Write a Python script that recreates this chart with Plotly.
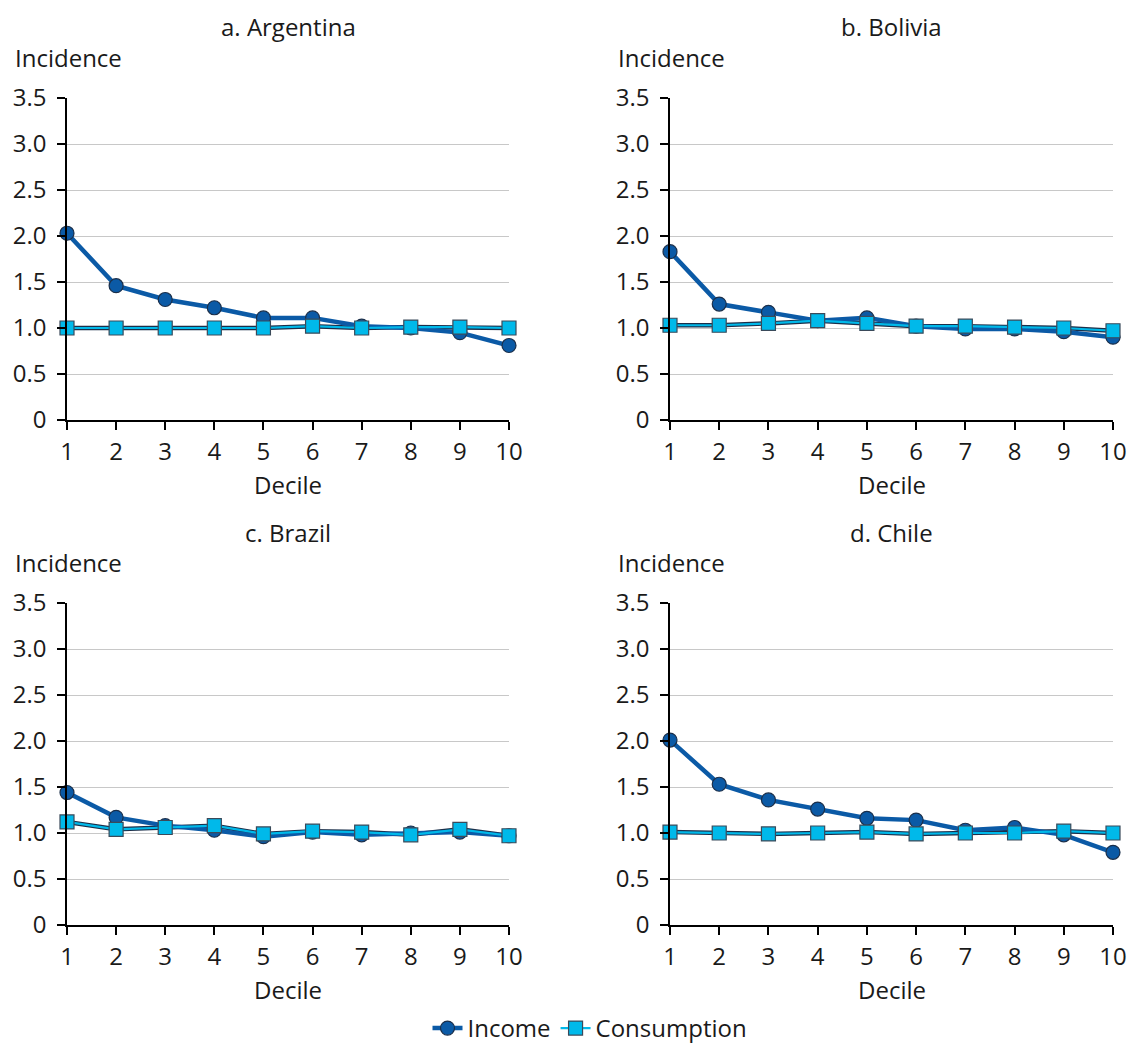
import plotly.graph_objects as go

deciles = [1, 2, 3, 4, 5, 6, 7, 8, 9, 10]

panel_titles = ["a. Argentina", "b. Bolivia", "c. Brazil", "d. Chile"]

argentina_income = [2.03, 1.46, 1.31, 1.22, 1.11, 1.11, 1.02, 1.00, 0.95, 0.81]
argentina_consumption = [1.00, 1.00, 1.00, 1.00, 1.00, 1.02, 1.00, 1.01, 1.01, 1.00]

bolivia_income = [1.83, 1.26, 1.17, 1.08, 1.11, 1.02, 0.99, 0.99, 0.96, 0.90]
bolivia_consumption = [1.03, 1.03, 1.05, 1.08, 1.05, 1.02, 1.02, 1.01, 1.00, 0.97]

brazil_income = [1.44, 1.17, 1.08, 1.03, 0.96, 1.01, 0.98, 1.00, 1.01, 0.97]
brazil_consumption = [1.12, 1.04, 1.06, 1.08, 0.99, 1.02, 1.01, 0.98, 1.04, 0.97]

chile_income = [2.01, 1.53, 1.36, 1.26, 1.16, 1.14, 1.03, 1.06, 0.98, 0.79]
chile_consumption = [1.01, 1.00, 0.99, 1.00, 1.01, 0.99, 1.00, 1.00, 1.02, 1.00]

y_ticks = [0, 0.5, 1.0, 1.5, 2.0, 2.5, 3.0, 3.5]
y_tick_labels = ["0", "0.5", "1.0", "1.5", "2.0", "2.5", "3.0", "3.5"]

income_series = [argentina_income, bolivia_income, brazil_income, chile_income]
consumption_series = [argentina_consumption, bolivia_consumption, brazil_consumption, chile_consumption]

FONT = "Open Sans"
FS = 24
TXT = "#1a1a1a"
W, H = 1130, 1051

# plot-area pixel boxes (left, right, top, bottom)
boxes = [
    (67, 509, 98, 420),
    (670, 1113, 98, 420),
    (67, 509, 603, 925),
    (670, 1113, 603, 925),
]

INCOME_COLOR = "#0b5aa6"
CONS_COLOR = "#00b9ea"
EDGE = "#1b2f4a"

fig = go.Figure()
annotations = []
layout_axes = {}

for i, (l, r, t, b) in enumerate(boxes):
    n = "" if i == 0 else str(i + 1)
    xa, ya = "x" + n, "y" + n
    xdom = [l / W, r / W]
    ydom = [1 - b / H, 1 - t / H]

    layout_axes["xaxis" + n] = dict(
        domain=xdom, anchor=ya, range=[1, 10], tickvals=deciles,
        ticks="outside", ticklen=8, tickcolor="#000", tickwidth=1.5,
        showline=True, linecolor="#000", linewidth=1.5,
        showgrid=False, zeroline=False, fixedrange=True, automargin=False,
        ticklabelstandoff=1,
        tickfont=dict(family=FONT, size=FS, color=TXT),
    )
    layout_axes["yaxis" + n] = dict(
        domain=ydom, anchor=xa, range=[0, 3.5], tickvals=y_ticks, ticktext=y_tick_labels,
        ticks="outside", ticklen=8, tickcolor="#000", tickwidth=1.5,
        showline=True, linecolor="#000", linewidth=1.5,
        showgrid=True, gridcolor="#c8c8c8", gridwidth=1.2, zeroline=False, fixedrange=True,
        automargin=False, ticklabelstandoff=6,
        tickfont=dict(family=FONT, size=FS, color=TXT),
    )

    # consumption: dark casing under a cyan line
    fig.add_trace(go.Scatter(
        x=deciles, y=consumption_series[i], xaxis=xa, yaxis=ya,
        mode="lines", line=dict(color=EDGE, width=4.5),
        showlegend=False, hoverinfo="skip", cliponaxis=False,
    ))
    fig.add_trace(go.Scatter(
        x=deciles, y=income_series[i], xaxis=xa, yaxis=ya, name="Income",
        mode="lines+markers", line=dict(color=INCOME_COLOR, width=4.5),
        marker=dict(symbol="circle", size=14, color=INCOME_COLOR, line=dict(color=EDGE, width=1.2)),
        showlegend=(i == 0), legendgroup="income", cliponaxis=False,
    ))
    fig.add_trace(go.Scatter(
        x=deciles, y=consumption_series[i], xaxis=xa, yaxis=ya, name="Consumption",
        mode="lines+markers", line=dict(color=CONS_COLOR, width=2.2),
        marker=dict(symbol="square", size=14, color=CONS_COLOR, line=dict(color="#3a4a5a", width=1.2)),
        showlegend=(i == 0), legendgroup="cons", cliponaxis=False,
    ))

    cx = (l + r) / 2
    annotations.append(dict(
        text=panel_titles[i], x=cx / W, y=1 - (t - 71) / H, xref="paper", yref="paper",
        xanchor="center", yanchor="middle", showarrow=False,
        font=dict(family=FONT, size=FS, color=TXT),
    ))
    annotations.append(dict(
        text="Incidence", x=(l - 54) / W, y=1 - (t - 41) / H, xref="paper", yref="paper",
        xanchor="left", yanchor="middle", showarrow=False,
        font=dict(family=FONT, size=FS, color=TXT),
    ))
    annotations.append(dict(
        text="Decile", x=cx / W, y=1 - (b + 64) / H, xref="paper", yref="paper",
        xanchor="center", yanchor="middle", showarrow=False,
        font=dict(family=FONT, size=FS, color=TXT),
    ))

fig.update_layout(
    width=W, height=H,
    margin=dict(l=0, r=0, t=0, b=0),
    paper_bgcolor="white", plot_bgcolor="white",
    annotations=annotations,
    showlegend=True,
    legend=dict(
        orientation="h", x=590 / W, y=0, xanchor="center", yanchor="bottom",
        font=dict(family=FONT, size=FS, color=TXT),
        traceorder="normal",
    ),
    **layout_axes,
)

fig.write_html("out.html")
